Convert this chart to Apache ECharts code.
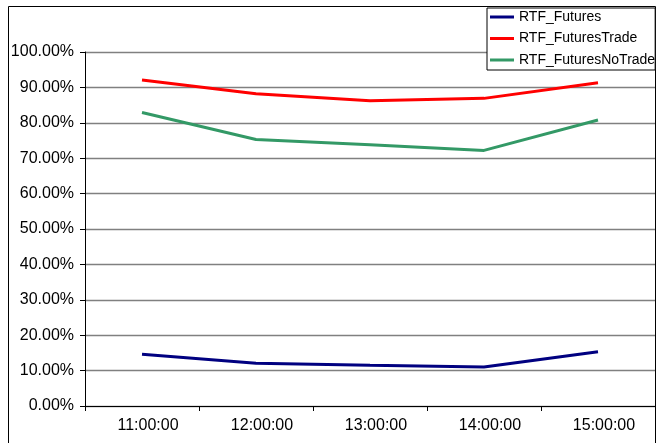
<!DOCTYPE html>
<html>
<head>
<meta charset="utf-8">
<script src="https://cdn.jsdelivr.net/npm/echarts@6/dist/echarts.min.js"></script>
<style>
  html, body { margin: 0; padding: 0; background: #fff; }
  #chart { width: 656px; height: 443px; }
</style>
</head>
<body>
<div id="chart"></div>
<script>
// Hourly ratios, 11:00 to 15:00
const categories = ['11:00:00', '12:00:00', '13:00:00', '14:00:00', '15:00:00'];
const seriesNames = ['RTF_Futures', 'RTF_FuturesTrade', 'RTF_FuturesNoTrade'];
const rtfFutures = [0.146, 0.121, 0.115, 0.110, 0.153];
const rtfFuturesTrade = [0.921, 0.882, 0.862, 0.869, 0.913];
const rtfFuturesNoTrade = [0.829, 0.753, 0.738, 0.722, 0.808];
const seriesColors = ['#000080', '#FF0000', '#339966'];

const FONT = 'Liberation Sans, Arial, sans-serif';
const chart = echarts.init(document.getElementById('chart'), null, { renderer: 'canvas' });

const values = [rtfFutures, rtfFuturesTrade, rtfFuturesNoTrade];

chart.setOption({
  backgroundColor: '#fff',
  animation: false,
  graphic: [{
    type: 'rect',
    shape: { x: 8.5, y: 6.5, width: 647, height: 460 },
    style: { fill: 'none', stroke: '#000', lineWidth: 1 },
    z: 0
  }],
  grid: { left: 85, right: 1, top: 52, bottom: 37 },
  legend: {
    orient: 'vertical',
    left: 487,
    top: 8,
    padding: [2, 0, 3, 3],
    itemGap: 7.5,
    itemWidth: 24,
    itemHeight: 3,
    icon: 'rect',
    backgroundColor: '#fff',
    borderColor: '#000',
    borderWidth: 1,
    borderRadius: 0,
    textStyle: { fontFamily: FONT, fontSize: 14, color: '#000', lineHeight: 14 },
    data: seriesNames
  },
  xAxis: {
    type: 'category',
    data: categories,
    boundaryGap: true,
    axisLine: { lineStyle: { color: '#000', width: 1 } },
    axisTick: { show: true, length: 5, lineStyle: { color: '#000' } },
    axisLabel: { fontFamily: FONT, fontSize: 16, color: '#000', margin: 12, padding: [0, 0, 0, 12] },
    splitLine: { show: false }
  },
  yAxis: {
    type: 'value',
    min: 0,
    max: 1,
    interval: 0.1,
    axisLine: { show: true, lineStyle: { color: '#000', width: 1 } },
    axisTick: { show: true, length: 5, lineStyle: { color: '#000' } },
    axisLabel: {
      fontFamily: FONT, fontSize: 16, color: '#000', margin: 11,
      formatter: v => (v * 100).toFixed(2) + '%'
    },
    splitLine: { show: true, lineStyle: { color: '#808080', width: 1.3 } }
  },
  series: seriesNames.map((name, i) => ({
    name,
    type: 'line',
    data: values[i],
    symbol: 'none',
    lineStyle: { color: seriesColors[i], width: 3 },
    itemStyle: { color: seriesColors[i] }
  }))
});
</script>
</body>
</html>
